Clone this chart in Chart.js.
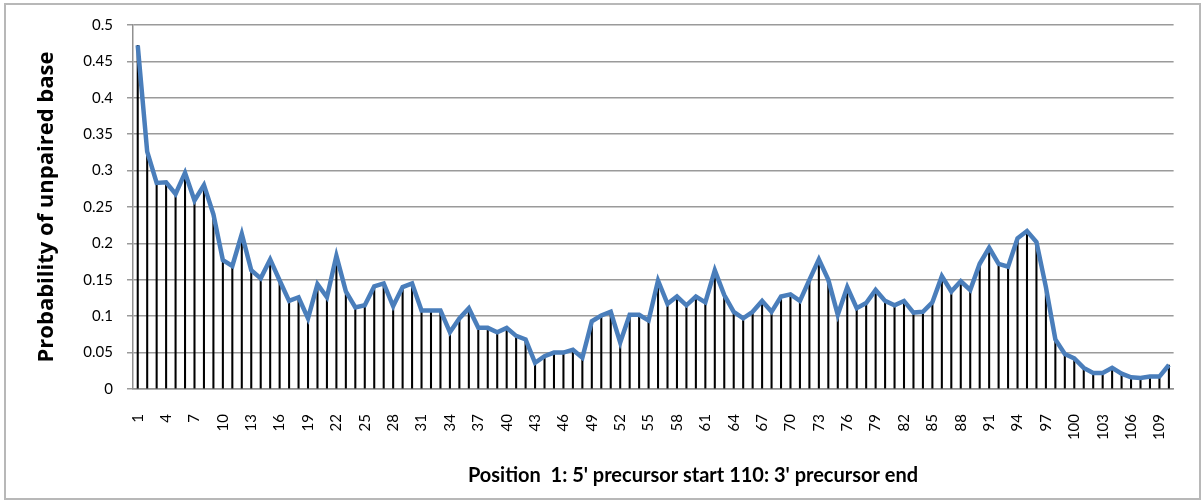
<!DOCTYPE html>
<html>
<head>
<meta charset="utf-8">
<script src="https://cdn.jsdelivr.net/npm/chart.js@4"></script>
<style>
  html, body { margin: 0; padding: 0; background: #fff; }
  #wrap { position: relative; width: 1204px; height: 502px; }
  #frame { position: absolute; left: 4px; top: 3px; width: 1197px; height: 497px; box-sizing: border-box; border: 2px solid #b8b8b8; pointer-events: none; }
  canvas { position: absolute; left: 0; top: 0; }
</style>
</head>
<body>
<div id="wrap">
  <canvas id="c" width="1204" height="502"></canvas>
  <div id="frame"></div>
</div>
<script>
const positions = [
  1,2,3,4,5,6,7,8,9,10,11,12,13,14,15,16,17,18,19,20,
  21,22,23,24,25,26,27,28,29,30,31,32,33,34,35,36,37,38,39,40,
  41,42,43,44,45,46,47,48,49,50,51,52,53,54,55,56,57,58,59,60,
  61,62,63,64,65,66,67,68,69,70,71,72,73,74,75,76,77,78,79,80,
  81,82,83,84,85,86,87,88,89,90,91,92,93,94,95,96,97,98,99,100,
  101,102,103,104,105,106,107,108,109,110
];

const unpairedProbability = [
  0.472, 0.326, 0.283, 0.284, 0.268, 0.297, 0.259, 0.280, 0.240, 0.177,
  0.169, 0.213, 0.163, 0.152, 0.178, 0.149, 0.121, 0.126, 0.097, 0.144,
  0.126, 0.183, 0.134, 0.112, 0.115, 0.141, 0.145, 0.114, 0.140, 0.145,
  0.108, 0.108, 0.108, 0.078, 0.097, 0.111, 0.084, 0.084, 0.078, 0.084,
  0.073, 0.068, 0.036, 0.045, 0.050, 0.050, 0.054, 0.043, 0.093, 0.101,
  0.106, 0.064, 0.102, 0.102, 0.094, 0.149, 0.117, 0.127, 0.115, 0.127,
  0.119, 0.163, 0.129, 0.106, 0.097, 0.106, 0.121, 0.106, 0.127, 0.130,
  0.121, 0.150, 0.178, 0.150, 0.102, 0.140, 0.111, 0.118, 0.136, 0.121,
  0.115, 0.121, 0.105, 0.106, 0.119, 0.155, 0.134, 0.148, 0.136, 0.172,
  0.194, 0.172, 0.168, 0.207, 0.217, 0.202, 0.140, 0.068, 0.048, 0.042,
  0.029, 0.022, 0.022, 0.029, 0.021, 0.016, 0.015, 0.017, 0.017, 0.033
];

const yAxisTitle = 'Probability of unpaired base';
const xAxisTitle = "Position  1: 5' precursor start 110: 3' precursor end";

const FONT = "Lato, 'Open Sans', 'DejaVu Sans', sans-serif";
const TITLE_FONT = "'Open Sans', Lato, 'DejaVu Sans', sans-serif";

const xTitlePlugin = {
  id: 'xTitlePlugin',
  afterDraw(chart) {
    const t = chart.options.scales.x.title;
    const ctx = chart.ctx;
    ctx.save();
    ctx.font = "bold 20px " + FONT;
    ctx.fillStyle = '#000';
    ctx.textAlign = 'center';
    ctx.textBaseline = 'alphabetic';
    ctx.fillText(t.text, 693, 482);
    ctx.restore();
  }
};

new Chart(document.getElementById('c'), {
  type: 'bar',
  data: {
    labels: positions,
    datasets: [
      {
        type: 'line',
        data: unpairedProbability,
        borderColor: '#4a7ebb',
        borderWidth: 4.5,
        pointRadius: 0,
        tension: 0,
        fill: false,
        order: 0
      },
      {
        type: 'bar',
        data: unpairedProbability,
        backgroundColor: '#000',
        barThickness: 1.4,
        order: 1
      }
    ]
  },
  options: {
    responsive: false,
    animation: false,
    layout: { padding: { left: 5, right: 24, top: 25, bottom: 0 } },
    plugins: { legend: { display: false }, tooltip: { enabled: false } },
    scales: {
      x: {
        offset: true,
        grid: { display: false },
        border: { display: true, color: '#909090', width: 1.5 },
        ticks: {
          autoSkip: false,
          maxRotation: 90,
          minRotation: 90,
          padding: 17,
          color: '#000',
          font: { family: FONT, size: 15 },
          callback: function (v, i) { return i % 3 === 0 ? this.getLabelForValue(v) : ''; }
        },
        title: { display: false, text: xAxisTitle },
        afterFit: s => { s.height = 113; }
      },
      y: {
        min: 0,
        max: 0.5,
        ticks: {
          stepSize: 0.05,
          padding: 14,
          color: '#000',
          font: { family: FONT, size: 15 },
          callback: v => +v.toFixed(2)
        },
        grid: { color: '#9a9a9a', lineWidth: 1.5, tickLength: 6 },
        border: { display: true, color: '#909090', width: 1.5 },
        title: {
          display: true,
          text: yAxisTitle,
          color: '#000',
          font: { family: TITLE_FONT, size: 22, weight: 'bold' },
          padding: { top: 29, bottom: 0 }
        },
        afterFit: s => { s.width = 128; }
      }
    }
  },
  plugins: [xTitlePlugin]
});
</script>
</body>
</html>
